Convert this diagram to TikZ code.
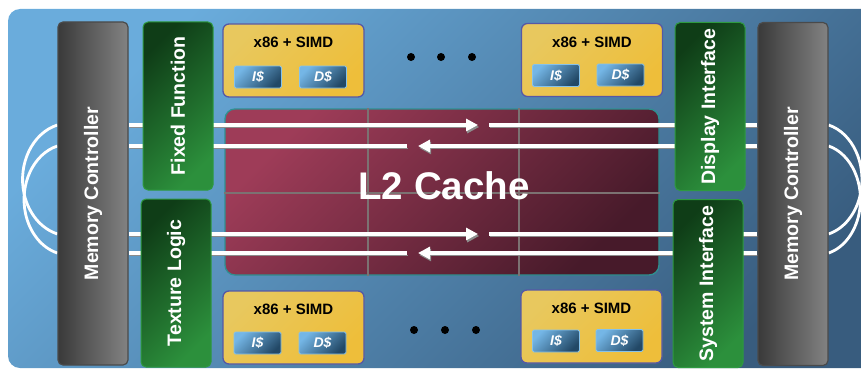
\documentclass[tikz,border=0pt]{standalone}
\usepackage{fontspec}
\setmainfont{Liberation Sans}
\usetikzlibrary{arrows.meta,calc}
\pgfdeclarelayer{bglayer}
\pgfdeclarelayer{midlayer}
\pgfsetlayers{bglayer,midlayer,main}

\definecolor{bgA}{HTML}{6AACDC}
\definecolor{bgB}{HTML}{385C7E}
\definecolor{mcA}{HTML}{3A3A3A}
\definecolor{mcB}{HTML}{828282}
\definecolor{mcE}{HTML}{4A4A4A}
\definecolor{grA}{HTML}{0F3D17}
\definecolor{grB}{HTML}{2C903C}
\definecolor{grE}{HTML}{2E9A40}
\definecolor{ylA}{HTML}{E8C85E}
\definecolor{ylB}{HTML}{EEBE3A}
\definecolor{ylE}{HTML}{5658A6}
\definecolor{cbA}{HTML}{74B6E6}
\definecolor{cbB}{HTML}{224866}
\definecolor{cbE}{HTML}{86C2EA}
\definecolor{l2A}{HTML}{9E3C58}
\definecolor{l2B}{HTML}{471A2A}
\definecolor{l2E}{HTML}{2E9090}
\definecolor{gridc}{HTML}{7C7272}
\definecolor{shad}{HTML}{8C8C8C}

\begin{document}
\begin{tikzpicture}[x=1pt,y=-1pt,
  ctrlbox/.style={draw=mcE, line width=1.2pt, rounded corners=5pt, left color=mcA, right color=mcB, minimum width=70pt, minimum height=343pt, inner sep=0pt},
  unitbox/.style={draw=grE, line width=1pt, rounded corners=5pt, top color=grA, bottom color=grB, shading angle=45, minimum width=70pt, minimum height=168pt, inner sep=0pt},
  vlabel/.style={text=white, font=\bfseries\fontsize{19.5}{22}\selectfont, rotate=90, inner sep=0pt},
  corebox/.style={draw=ylE, line width=1.3pt, rounded corners=6pt, top color=ylA, bottom color=ylB, shading angle=45, minimum width=141pt, minimum height=73pt, inner sep=0pt},
  coretxt/.style={font=\bfseries\fontsize{15}{18}\selectfont, text=black, inner sep=0pt},
  cachebox/.style={draw=cbE, line width=0.8pt, rounded corners=1.5pt, top color=cbA, bottom color=cbB, shading angle=45, minimum width=47pt, minimum height=22pt, inner sep=0pt, text=white, font=\bfseries\itshape\fontsize{14}{16}\selectfont},
  dotnode/.style={circle, fill=black, inner sep=0pt, minimum size=8pt},
  flowline/.style={draw=white, line width=4pt, preaction={draw=shad, transform canvas={shift={(1.2pt,-2pt)}}}},
  arrowtip/.style={-{Triangle[length=12pt,width=12pt]}},
  wrapline/.style={draw=white, line width=2.8pt},
  gridl/.style={draw=gridc, line width=2.3pt},
]
\useasboundingbox (0,0) rectangle (861,369);

% main layer: blocks
\node[ctrlbox, label={[vlabel]center:Memory Controller}] (mcL) at (93,193.5) {};
\node[ctrlbox, label={[vlabel]center:Memory Controller}] (mcR) at (793,194) {};

\node[unitbox, label={[vlabel]center:Fixed Function}] (ff) at (178,106) {};
\node[unitbox, label={[vlabel]center:Texture Logic}] (tl) at (176,283) {};
\node[unitbox, label={[vlabel]center:Display Interface}] (di) at (710,106.5) {};
\node[unitbox, label={[vlabel]center:System Interface}] (si) at (708,283.5) {};

\node[corebox] (k1) at (293.5,60.5) {};
\node[corebox] (k2) at (592,60) {};
\node[corebox] (k3) at (293.5,327.5) {};
\node[corebox] (k4) at (591.5,326.5) {};
\node[coretxt] (k1t) at ([yshift=-19pt]k1.north) {x86 + SIMD};
\node[coretxt] (k2t) at ([yshift=-19pt]k2.north) {x86 + SIMD};
\node[coretxt] (k3t) at ([yshift=-19pt]k3.north) {x86 + SIMD};
\node[coretxt] (k4t) at ([yshift=-19pt]k4.north) {x86 + SIMD};

\node[cachebox] (k1i) at (258,77) {I\$};
\node[cachebox] (k1d) at (323,77) {D\$};
\node[cachebox] (k2i) at (556,75.5) {I\$};
\node[cachebox] (k2d) at (620.5,75) {D\$};
\node[cachebox] (k3i) at (257.5,343) {I\$};
\node[cachebox] (k3d) at (322.5,343) {D\$};
\node[cachebox] (k4i) at (556,341) {I\$};
\node[cachebox] (k4d) at (619.5,340.5) {D\$};

\node[dotnode] (d1) at (411,57) {};
\node[dotnode] (d2) at (441,57) {};
\node[dotnode] (d3) at (472,57) {};
\node[dotnode] (d4) at (414,330) {};
\node[dotnode] (d5) at (445,330) {};
\node[dotnode] (d6) at (476,330) {};

% background layer
\begin{pgfonlayer}{bglayer}
\begin{scope}
\clip (0,0) rectangle (861,369);
\shade[top color=bgA, bottom color=bgB, shading angle=45, rounded corners=12pt] (8,9) rectangle (900,368);
\end{scope}
\node[draw=l2E, line width=1.3pt, rounded corners=10pt, top color=l2A, bottom color=l2B, shading angle=45, minimum width=434pt, minimum height=166pt, inner sep=0pt] (cache) at (442,192) {};
\draw[gridl] ($(cache.north west)!0.3295!(cache.north east)$) -- ($(cache.south west)!0.3295!(cache.south east)$);
\draw[gridl] ($(cache.north west)!0.677!(cache.north east)$) -- ($(cache.south west)!0.677!(cache.south east)$);
\draw[gridl] ($(cache.north west)!0.506!(cache.south west)$) -- ($(cache.north east)!0.506!(cache.south east)$);
\node[text=white, font=\bfseries\fontsize{38.5}{40}\selectfont, inner sep=0pt] (cachet) at (444,186) {L2 Cache};
\end{pgfonlayer}

% ring connections
\begin{pgfonlayer}{midlayer}
\coordinate (r1) at (478,125); \coordinate (r1b) at (489,125);
\coordinate (l1) at (418,146); \coordinate (l1b) at (407,146);
\coordinate (r2) at (478,234); \coordinate (r2b) at (489,234);
\coordinate (l2) at (418,253); \coordinate (l2b) at (407,253);

\draw[flowline, arrowtip] (mcL.east |- r1) -- (r1);
\draw[flowline] (r1b) -- (mcR.west |- r1b);
\draw[flowline, arrowtip] (mcR.west |- l1) -- (l1);
\draw[flowline] (mcL.east |- l1b) -- (l1b);

\draw[flowline, arrowtip] (mcL.east |- r2) -- (r2);
\draw[flowline] (r2b) -- (mcR.west |- r2b);
\draw[flowline, arrowtip] (mcR.west |- l2) -- (l2);
\draw[flowline] (mcL.east |- l2b) -- (l2b);

\draw[wrapline] (mcL.west |- r1) arc[start angle=255, end angle=105, x radius=47, y radius=56.4];
\draw[wrapline] (mcL.west |- l1) arc[start angle=255, end angle=105, x radius=45, y radius=55.4];
\draw[wrapline] (mcR.east |- r1) arc[start angle=-75, end angle=75, x radius=45, y radius=56.4];
\draw[wrapline] (mcR.east |- l1) arc[start angle=-75, end angle=75, x radius=43, y radius=55.4];
\end{pgfonlayer}
\end{tikzpicture}
\end{document}
